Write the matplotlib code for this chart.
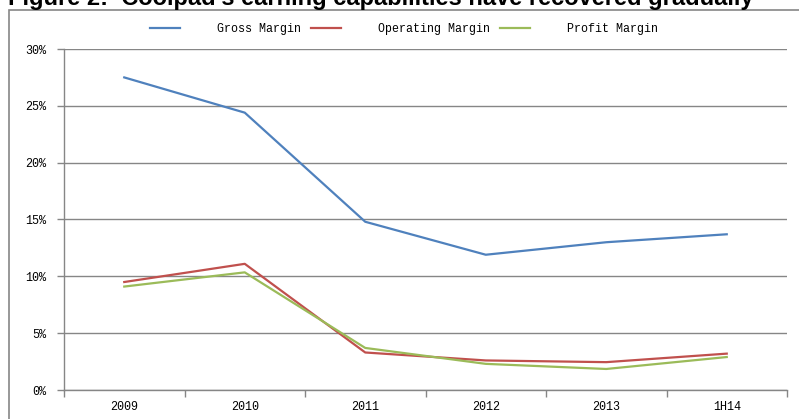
import matplotlib
matplotlib.use("Agg")
import matplotlib.pyplot as plt
from matplotlib.patches import Rectangle
from matplotlib.ticker import FixedLocator, PercentFormatter

categories = ["2009", "2010", "2011", "2012", "2013", "1H14"]
gross_margin = [27.5, 24.4, 14.8, 11.9, 13.0, 13.7]
operating_margin = [9.5, 11.1, 3.3, 2.6, 2.45, 3.2]
profit_margin = [9.1, 10.35, 3.7, 2.3, 1.85, 2.9]

W, H = 799, 419
fig = plt.figure(figsize=(W / 100, H / 100), dpi=100)

# outer frame (cut off at right / bottom)
fig.patches.append(Rectangle((9 / W, -0.1), 1.2, 1.1 - 10 / H, transform=fig.transFigure,
                             fill=False, edgecolor="#868686", linewidth=1.2))

fig.text(8 / W, 1 - 5 / H, "Figure 2:  Coolpad's earning capabilities have recovered gradually",
         family="Liberation Sans", weight="bold", fontsize=17, va="baseline", ha="left")

ax = fig.add_axes([64 / W, 1 - 390 / H, (787 - 64) / W, (390 - 49) / H])

x = list(range(len(categories)))
ax.plot(x, gross_margin, color="#4F81BD", lw=1.6, label="Gross Margin")
ax.plot(x, operating_margin, color="#C0504D", lw=1.6, label="Operating Margin")
ax.plot(x, profit_margin, color="#9BBB59", lw=1.6, label="Profit Margin")

ax.set_xlim(-0.5, len(categories) - 0.5)
ax.set_ylim(0, 30)
ax.set_yticks(range(0, 31, 5))
ax.yaxis.set_major_formatter(PercentFormatter(decimals=0))
ax.grid(axis="y", color="#868686", lw=1)
ax.set_axisbelow(True)

ax.set_xticks(x)
ax.set_xticklabels(categories)
ax.xaxis.set_minor_locator(FixedLocator([i - 0.5 for i in range(len(categories) + 1)]))
ax.tick_params(axis="x", which="major", length=0, pad=8)
ax.tick_params(axis="x", which="minor", length=5, color="#868686", width=1)
ax.tick_params(axis="y", length=5, color="#868686", width=1, pad=8)

for side in ("top", "right"):
    ax.spines[side].set_visible(False)
for side in ("left", "bottom"):
    ax.spines[side].set_color("#868686")
    ax.spines[side].set_linewidth(1)

for lbl in ax.get_xticklabels() + ax.get_yticklabels():
    lbl.set_family("Liberation Mono")
    lbl.set_fontsize(8.5)

leg = ax.legend(loc="center", bbox_to_anchor=((404 - 64) / (787 - 64), 1 + 20 / (390 - 49)),
                ncol=3, frameon=False,
                handlelength=2.6, handletextpad=3.2, columnspacing=0.8,
                prop={"family": "Liberation Mono", "size": 8.4})

fig.savefig("out.png", dpi=100)
